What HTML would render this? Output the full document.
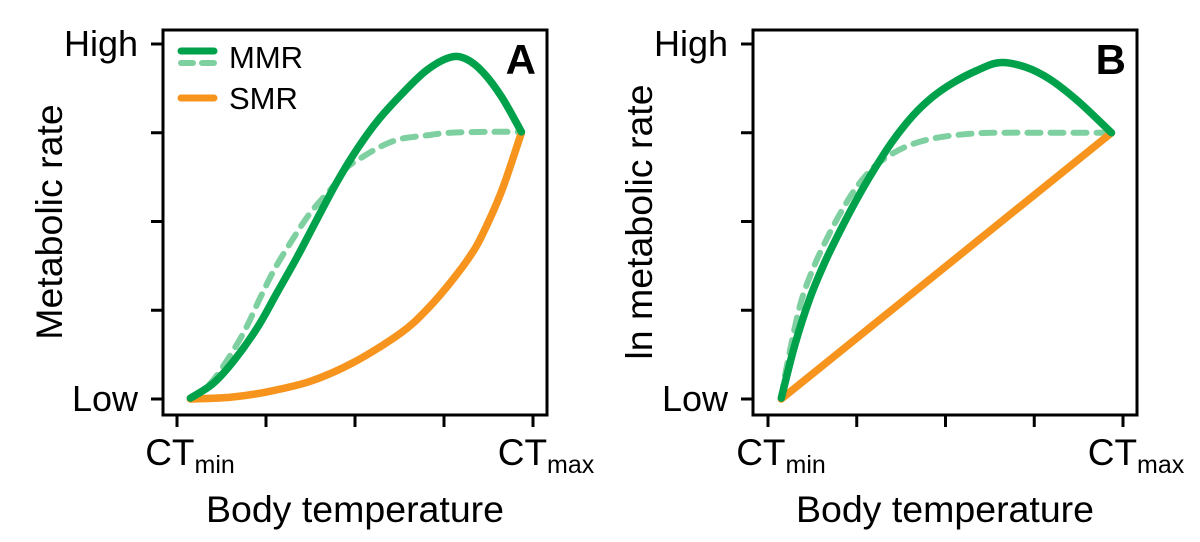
<!DOCTYPE html>
<html><head><meta charset="utf-8"><style>
html,body{margin:0;padding:0;background:#fff;}
svg{display:block;font-family:"Liberation Sans",Arial,sans-serif;}
</style></head><body>
<svg id="chart" width="1200" height="542" viewBox="0 0 1200 542"></svg>
<script>
// x: 0 = CTmin, 4 = CTmax ; y: 0 = Low, 4 = High
const xTickLabels = ["CT", "", "", "", "CT"];
const xTickSubs = ["min", "", "", "", "max"];
const yTickLabels = ["Low", "", "", "", "High"];
const mmrAx = [0.15, 0.4, 0.63, 0.9, 1.12, 1.35, 1.57, 1.8, 2.02, 2.25, 2.51, 2.8, 3.07, 3.25, 3.44, 3.65, 3.87];
const mmrAy = [0.01, 0.17, 0.42, 0.8, 1.19, 1.6, 2.02, 2.45, 2.81, 3.13, 3.42, 3.7, 3.85, 3.83, 3.68, 3.4, 3.01];
const mmrDashAx = [0.15, 0.35, 0.52, 0.75, 0.93, 1.1, 1.30, 1.5, 1.75, 1.9, 2.09, 2.3, 2.51, 2.8, 3.07, 3.5, 3.87];
const mmrDashAy = [0.01, 0.15, 0.37, 0.75, 1.13, 1.47, 1.80, 2.1, 2.39, 2.6, 2.73, 2.85, 2.93, 2.97, 3.00, 3.01, 3.01];
const smrAx = [0.15, 0.6, 1.01, 1.5, 1.98, 2.51, 2.8, 3.07, 3.3, 3.44, 3.65, 3.87];
const smrAy = [0.00, 0.02, 0.08, 0.2, 0.41, 0.74, 1.0, 1.31, 1.62, 1.87, 2.35, 3.00];
const mmrBx = [0.15, 0.3, 0.47, 0.64, 0.81, 1.0, 1.18, 1.4, 1.63, 1.85, 2.08, 2.35, 2.61, 2.9, 3.18, 3.5, 3.87];
const mmrBy = [0.01, 0.6, 1.13, 1.54, 1.89, 2.25, 2.56, 2.9, 3.19, 3.4, 3.56, 3.7, 3.79, 3.74, 3.60, 3.35, 3.00];
const mmrDashBx = [0.15, 0.21, 0.36, 0.5, 0.66, 0.83, 1.00, 1.2, 1.41, 1.65, 1.94, 2.3, 2.61, 3.2, 3.87];
const mmrDashBy = [0.01, 0.36, 1.05, 1.45, 1.80, 2.12, 2.39, 2.62, 2.77, 2.88, 2.95, 2.99, 3.00, 3.00, 3.00];
const smrBx = [0.15, 3.87];
const smrBy = [0.00, 3.00];

const NS = "http://www.w3.org/2000/svg";
const svg = document.getElementById("chart");
function mk(tag, attrs, parent) {
  const e = document.createElementNS(NS, tag);
  for (const k in attrs) e.setAttribute(k, attrs[k]);
  (parent || svg).appendChild(e);
  return e;
}
function smooth(pts) {
  if (pts.length < 3) return "M" + pts.map(p => p[0].toFixed(1) + "," + p[1].toFixed(1)).join("L");
  let d = "M" + pts[0][0] + "," + pts[0][1];
  for (let i = 0; i < pts.length - 1; i++) {
    const p0 = pts[Math.max(0, i - 1)], p1 = pts[i], p2 = pts[i + 1], p3 = pts[Math.min(pts.length - 1, i + 2)];
    const c1 = [p1[0] + (p2[0] - p0[0]) / 6, p1[1] + (p2[1] - p0[1]) / 6];
    const c2 = [p2[0] - (p3[0] - p1[0]) / 6, p2[1] - (p3[1] - p1[1]) / 6];
    d += "C" + c1.join(",") + " " + c2.join(",") + " " + p2.join(",");
  }
  return d;
}
function panel(cfg) {
  const g = mk("g", {});
  
  
  const X = v => cfg.x0 + v * cfg.xs;
  const Y = v => 399 - v * 88.75;
  const box = mk("rect", {x: cfg.bl, y: 30, width: cfg.br - cfg.bl, height: 385, fill: "none", stroke: "#000", "stroke-width": 3}, g);
  
  
  for (let i = 0; i < 5; i++) {
    const t = mk("line", {x1: cfg.bl - 12, x2: cfg.bl, y1: Y(i), y2: Y(i), stroke: "#000", "stroke-width": 3}, g);
    
    
    if (yTickLabels[i]) {
      const tx = mk("text", {x: cfg.bl - 25, y: Y(i) + 12, "text-anchor": "end", "font-size": 36}, g);
      tx.textContent = yTickLabels[i];
      
      
    }
    const xt = mk("line", {x1: X(i), x2: X(i), y1: 415, y2: 427, stroke: "#000", "stroke-width": 3}, g);
    
    
    if (xTickLabels[i]) {
      const tx = mk("text", {x: X(i) + 13, y: 465, "text-anchor": "middle", "font-size": 37}, g);
      
      
      tx.appendChild(document.createTextNode(xTickLabels[i]));
      const ts = mk("tspan", {"font-size": 25, dy: 8}, tx);
      ts.textContent = xTickSubs[i];
    }
  }
  const xt = mk("text", {x: (cfg.bl + cfg.br) / 2, y: 522, "text-anchor": "middle", "font-size": 37.5}, g);
  xt.textContent = "Body temperature";
  
  
  const yt = mk("text", {x: 0, y: 0, "text-anchor": "middle", "font-size": 37.5, transform: "translate(" + cfg.ytx + ",222) rotate(-90)"}, g);
  yt.textContent = cfg.ytitle;
  
  
  const lab = mk("text", {x: cfg.br - 11, y: 74, "text-anchor": "end", "font-size": 42, "font-weight": "bold"}, g);
  lab.textContent = cfg.label;
  
  
  const pts = (xs, ys) => xs.map((v, i) => [X(v), Y(ys[i])]);
  const d1 = mk("path", {d: smooth(pts(cfg.dx, cfg.dy)), fill: "none", stroke: "#7fd0a0", "stroke-width": 6, "stroke-dasharray": "13,10", "stroke-linecap": "round"}, g);
  
  
  const s = mk("path", {d: smooth(pts(cfg.sx, cfg.sy)), fill: "none", stroke: "#f7941d", "stroke-width": 7.5, "stroke-linecap": "round"}, g);
  
  
  const m = mk("path", {d: smooth(pts(cfg.mx, cfg.my)), fill: "none", stroke: "#00a14b", "stroke-width": 7.5, "stroke-linecap": "round"}, g);
  
  
}
panel({name: "panel-a", bl: 163, br: 547, x0: 177, xs: 89, ytx: 62, ytitle: "Metabolic rate", label: "A",
  mx: mmrAx, my: mmrAy, dx: mmrDashAx, dy: mmrDashAy, sx: smrAx, sy: smrAy});
panel({name: "panel-b", bl: 753, br: 1137, x0: 768, xs: 88.75, ytx: 652, ytitle: "ln metabolic rate", label: "B",
  mx: mmrBx, my: mmrBy, dx: mmrDashBx, dy: mmrDashBy, sx: smrBx, sy: smrBy});

// legend
const lg = mk("g", {});


const l1 = mk("line", {x1: 181, x2: 214, y1: 51, y2: 51, stroke: "#00a14b", "stroke-width": 7, "stroke-linecap": "round"}, lg);


const l2 = mk("line", {x1: 181, x2: 214, y1: 63, y2: 63, stroke: "#7fd0a0", "stroke-width": 6, "stroke-dasharray": "12,9", "stroke-linecap": "round"}, lg);


const l3 = mk("line", {x1: 181, x2: 214, y1: 98, y2: 98, stroke: "#f7941d", "stroke-width": 7, "stroke-linecap": "round"}, lg);


const t1 = mk("text", {x: 229, y: 68, "font-size": 31}, lg);
t1.textContent = "MMR";


const t2 = mk("text", {x: 229, y: 109, "font-size": 31}, lg);
t2.textContent = "SMR";


</script>
</body></html>
